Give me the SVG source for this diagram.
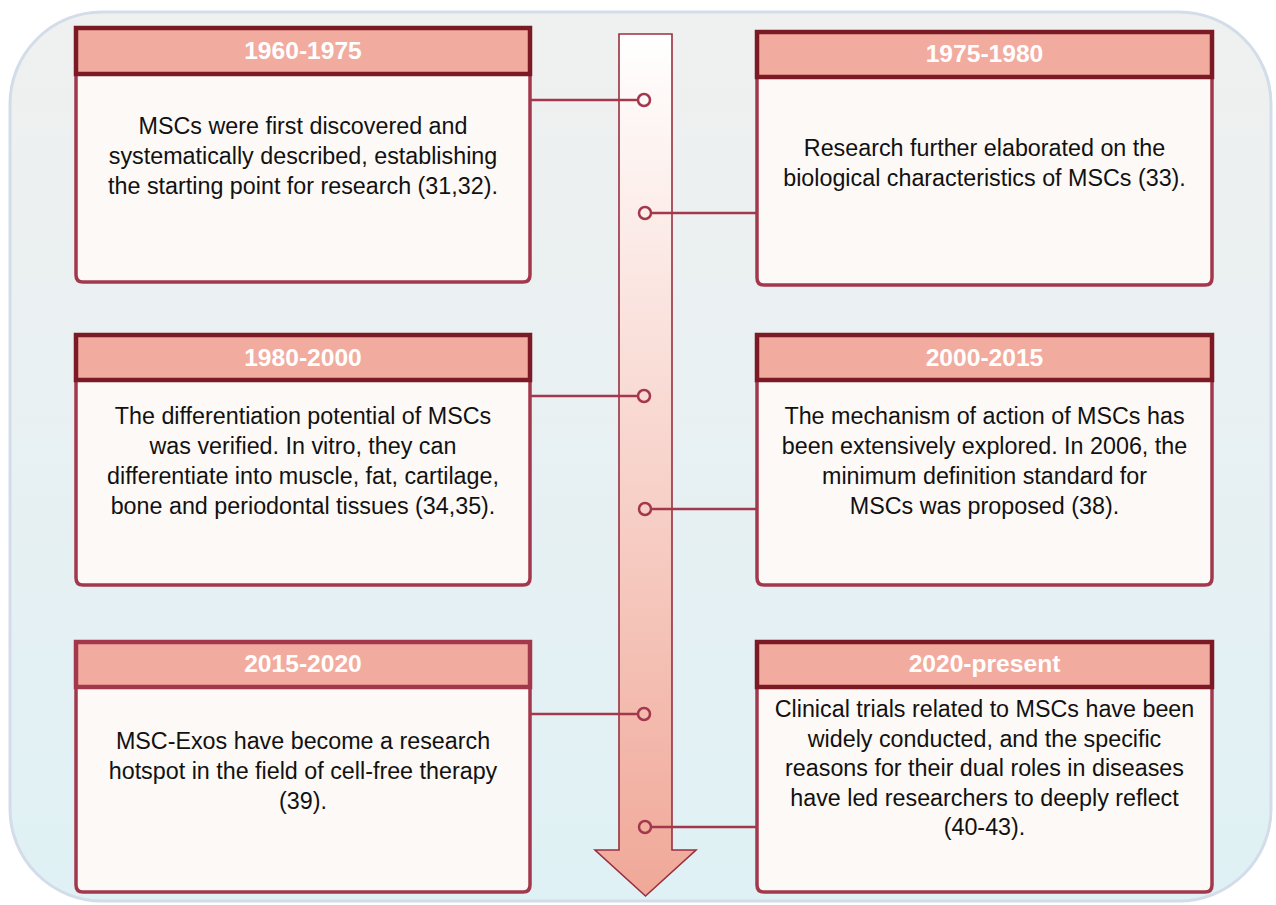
<svg xmlns="http://www.w3.org/2000/svg" width="1276" height="905" viewBox="0 0 1276 905">
<defs>
<linearGradient id="bg" x1="0" y1="0" x2="0" y2="1">
<stop offset="0" stop-color="#f0f0f0"/>
<stop offset="1" stop-color="#dff1f5"/>
</linearGradient>
<linearGradient id="ar" x1="0" y1="34" x2="0" y2="896" gradientUnits="userSpaceOnUse">
<stop offset="0" stop-color="#ffffff"/>
<stop offset="1" stop-color="#f0a898"/>
</linearGradient>
<style>
.body{fill:#fdf9f6;stroke:#a3384d;stroke-width:3.5}
.hd{fill:#f2ac9f;stroke:#7b1a24;stroke-width:4.5}
.hd2{fill:#f2ac9f;stroke:#a3384d;stroke-width:4.5}
.ht{font-family:"Liberation Sans",Arial,sans-serif;font-weight:bold;font-size:24.6px;fill:#ffffff;text-anchor:middle}
.bt{font-family:"Liberation Sans",Arial,sans-serif;font-size:23.3px;fill:#111111;text-anchor:middle}
.ln{stroke:#a3384d;stroke-width:2.5;fill:none}
.dot{stroke:#a3384d;stroke-width:2.5;fill:none}
</style>
</defs>
<rect x="10" y="12" width="1261" height="889" rx="92" fill="url(#bg)" stroke="#d3dce9" stroke-width="3"/>
<g id="timeline-arrow">
<path d="M619,34 H672 V850 H696 L645.5,896 L595,850 H619 Z" fill="url(#ar)" stroke="#9a2f40" stroke-width="1.6"/>
</g>
<g id="connectors">
<line class="ln" x1="531" y1="100" x2="638" y2="100"/>
<circle class="dot" cx="644" cy="100" r="6"/>
<line class="ln" x1="651" y1="213" x2="757" y2="213"/>
<circle class="dot" cx="645" cy="213" r="6"/>
<line class="ln" x1="531" y1="396" x2="638" y2="396"/>
<circle class="dot" cx="644" cy="396" r="6"/>
<line class="ln" x1="651" y1="509" x2="757" y2="509"/>
<circle class="dot" cx="645" cy="509" r="6"/>
<line class="ln" x1="531" y1="714" x2="638" y2="714"/>
<circle class="dot" cx="644" cy="714" r="6"/>
<line class="ln" x1="651" y1="827" x2="757" y2="827"/>
<circle class="dot" cx="645" cy="827" r="6"/>
</g>
<g id="node-1960-1975">
<path class="body" d="M76,74 V275 Q76,282 83,282 H523 Q530,282 530,275 V74 Z"/>
<rect class="hd" x="76" y="28" width="454" height="46"/>
<text class="ht" x="303" y="59">1960-1975</text>
<text class="bt" x="303" y="134">MSCs were first discovered and</text>
<text class="bt" x="303" y="164">systematically described, establishing</text>
<text class="bt" x="303" y="194">the starting point for research (31,32).</text>
</g>
<g id="node-1975-1980">
<path class="body" d="M757,77 V278 Q757,285 764,285 H1205 Q1212,285 1212,278 V77 Z"/>
<rect class="hd" x="757" y="32" width="455" height="45"/>
<text class="ht" x="984.5" y="62">1975-1980</text>
<text class="bt" x="984.5" y="156">Research further elaborated on the</text>
<text class="bt" x="984.5" y="186">biological characteristics of MSCs (33).</text>
</g>
<g id="node-1980-2000">
<path class="body" d="M76,380 V578 Q76,585 83,585 H523 Q530,585 530,578 V380 Z"/>
<rect class="hd" x="76" y="335" width="454" height="45"/>
<text class="ht" x="303" y="366">1980-2000</text>
<text class="bt" x="303" y="424">The differentiation potential of MSCs</text>
<text class="bt" x="303" y="454">was verified. In vitro, they can</text>
<text class="bt" x="303" y="484">differentiate into muscle, fat, cartilage,</text>
<text class="bt" x="303" y="514">bone and periodontal tissues (34,35).</text>
</g>
<g id="node-2000-2015">
<path class="body" d="M757,380 V578 Q757,585 764,585 H1205 Q1212,585 1212,578 V380 Z"/>
<rect class="hd" x="757" y="335" width="455" height="45"/>
<text class="ht" x="984.5" y="366">2000-2015</text>
<text class="bt" x="984.5" y="424">The mechanism of action of MSCs has</text>
<text class="bt" x="984.5" y="454">been extensively explored. In 2006, the</text>
<text class="bt" x="984.5" y="484">minimum definition standard for</text>
<text class="bt" x="984.5" y="514">MSCs was proposed (38).</text>
</g>
<g id="node-2015-2020">
<path class="body" d="M76,687 V885 Q76,892 83,892 H523 Q530,892 530,885 V687 Z"/>
<rect class="hd2" x="76" y="642" width="454" height="45"/>
<text class="ht" x="303" y="672">2015-2020</text>
<text class="bt" x="303" y="749">MSC-Exos have become a research</text>
<text class="bt" x="303" y="779">hotspot in the field of cell-free therapy</text>
<text class="bt" x="303" y="809">(39).</text>
</g>
<g id="node-2020-present">
<path class="body" d="M757,687 V885 Q757,892 764,892 H1205 Q1212,892 1212,885 V687 Z"/>
<rect class="hd" x="757" y="642" width="455" height="45"/>
<text class="ht" x="984.5" y="672">2020-present</text>
<text class="bt" x="984.5" y="717">Clinical trials related to MSCs have been</text>
<text class="bt" x="984.5" y="746.5">widely conducted, and the specific</text>
<text class="bt" x="984.5" y="776">reasons for their dual roles in diseases</text>
<text class="bt" x="984.5" y="805.5">have led researchers to deeply reflect</text>
<text class="bt" x="984.5" y="835">(40-43).</text>
</g>
</svg>
